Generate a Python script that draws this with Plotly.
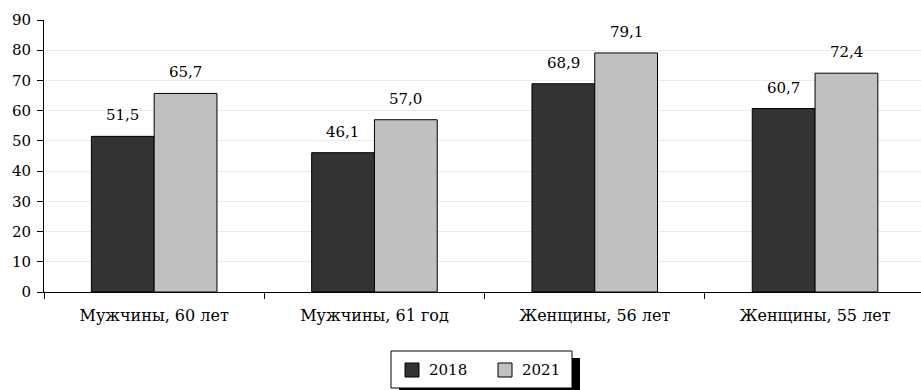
import plotly.graph_objects as go

categories = ["Мужчины, 60 лет", "Мужчины, 61 год", "Женщины, 56 лет", "Женщины, 55 лет"]
values_2018 = [51.5, 46.1, 68.9, 60.7]
values_2021 = [65.7, 57.0, 79.1, 72.4]
series_names = ["2018", "2021"]
series_colors = ["#333333", "#c0c0c0"]
y_ticks = [0, 10, 20, 30, 40, 50, 60, 70, 80, 90]

FONT = "DejaVu Serif"
W, H = 921, 390
ML, MR, MT, MB = 44, 0, 20, 98
PW, PH = W - ML - MR, H - MT - MB
CAT_PX = 220.3  # width of one category slot


def fmt(v):
    return f"{v:.1f}".replace(".", ",")


def px_x(p):
    return (p - ML) / PW


def px_y(p):
    return (H - MB - p) / PH


fig = go.Figure()
for name, vals, color in zip(series_names, [values_2018, values_2021], series_colors):
    fig.add_trace(go.Bar(
        name=name, x=categories, y=vals,
        marker=dict(color=color, line=dict(color="#000000", width=1)),
        hoverinfo="skip", showlegend=False,
    ))

# value labels above each bar
annotations = []
for s, vals in enumerate([values_2018, values_2021]):
    for j, v in enumerate(vals):
        annotations.append(dict(
            x=categories[j], y=v, xref="x", yref="y",
            text=fmt(v), showarrow=False, yanchor="bottom",
            xshift=(-31.5 if s == 0 else 31.5), yshift=10,
            font=dict(family=FONT, size=15, color="#000000"),
        ))

# framed legend with a drop shadow
shapes = [
    dict(type="rect", xref="paper", yref="paper", layer="above",
         x0=px_x(399), x1=px_x(580), y0=px_y(400), y1=px_y(358),
         fillcolor="#000000", line=dict(width=0)),
    dict(type="rect", xref="paper", yref="paper", layer="above",
         x0=px_x(391), x1=px_x(572), y0=px_y(388), y1=px_y(351),
         fillcolor="#ffffff", line=dict(color="#000000", width=1)),
]
legend_x = [405, 498]
for i, (name, color) in enumerate(zip(series_names, series_colors)):
    x0 = legend_x[i]
    shapes.append(dict(type="rect", xref="paper", yref="paper", layer="above",
                       x0=px_x(x0), x1=px_x(x0 + 14), y0=px_y(377), y1=px_y(363),
                       fillcolor=color, line=dict(color="#000000", width=1)))
    annotations.append(dict(x=px_x(x0 + 22), y=px_y(370), xref="paper", yref="paper",
                            text=name, showarrow=False, xanchor="left", yanchor="middle",
                            font=dict(family=FONT, size=15, color="#000000")))

fig.update_layout(
    width=W, height=H,
    margin=dict(l=ML, r=MR, t=MT, b=MB, pad=0),
    paper_bgcolor="#ffffff", plot_bgcolor="#ffffff",
    barmode="group", bargap=0.43, bargroupgap=0,
    font=dict(family=FONT, size=15, color="#000000"),
    showlegend=False,
    annotations=annotations,
    shapes=shapes,
    xaxis=dict(
        type="category", range=[-0.5, -0.5 + PW / CAT_PX],
        showline=True, linecolor="#000000", linewidth=1,
        ticks="outside", tickson="boundaries", ticklen=6, tickcolor="#000000",
        showgrid=False, tickfont=dict(family=FONT, size=16),
        ticklabelstandoff=9,
    ),
    yaxis=dict(
        range=[0, 90], tickvals=y_ticks, showline=True, linecolor="#000000",
        linewidth=1, ticks="outside", ticklen=6, tickcolor="#000000",
        showgrid=True, gridcolor="#ebebeb", gridwidth=1, zeroline=False,
        tickfont=dict(family=FONT, size=15), ticklabelstandoff=3,
    ),
)

fig.write_html("out.html")
